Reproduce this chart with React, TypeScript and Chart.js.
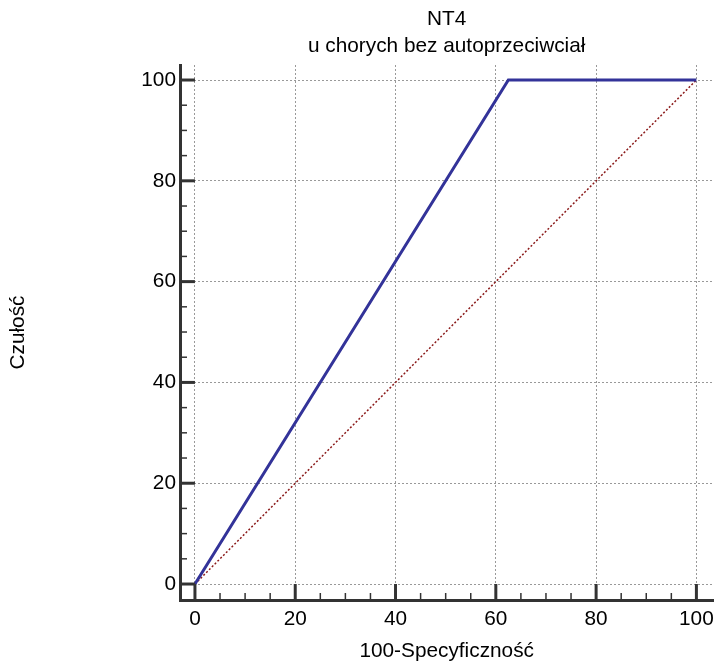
import React, { useEffect, useRef } from "react";
import { Chart, registerables } from "chart.js";

Chart.register(...registerables);

const titleLines = ["NT4", "u chorych bez autoprzeciwciał"];
const xAxisTitle = "100-Specyficzność";
const yAxisTitle = "Czułość";
const majorTicks = [0, 20, 40, 60, 80, 100];
const minorTicks = [5, 10, 15, 25, 30, 35, 45, 50, 55, 65, 70, 75, 85, 90, 95];
const rocX = [0, 62.5, 100];
const rocY = [0, 100, 100];
const diagX = [0, 100];
const diagY = [0, 100];

const FONT = "'Liberation Sans', Arial, sans-serif";
const FS = 20.8;
const AXIS_COLOR = "#333333";

const tickPlugin = {
  id: "customTicks",
  afterDatasetsDraw(chart: any) {
    const { ctx, scales } = chart;
    const xs = scales.x;
    const ys = scales.y;
    const left = chart.chartArea.left;
    const bottom = chart.chartArea.bottom;
    const x0 = xs.getPixelForValue(0);
    const y0 = ys.getPixelForValue(0);
    ctx.save();
    ctx.strokeStyle = AXIS_COLOR;
    ctx.lineWidth = 3;
    majorTicks.forEach((v) => {
      const py = ys.getPixelForValue(v);
      ctx.beginPath();
      ctx.moveTo(left, py);
      ctx.lineTo(x0, py);
      ctx.stroke();
      const px = xs.getPixelForValue(v);
      ctx.beginPath();
      ctx.moveTo(px, bottom);
      ctx.lineTo(px, y0);
      ctx.stroke();
    });
    ctx.lineWidth = 1.5;
    minorTicks.forEach((v) => {
      const py = ys.getPixelForValue(v);
      ctx.beginPath();
      ctx.moveTo(left, py);
      ctx.lineTo(left + 7, py);
      ctx.stroke();
      const px = xs.getPixelForValue(v);
      ctx.beginPath();
      ctx.moveTo(px, bottom);
      ctx.lineTo(px, bottom - 7);
      ctx.stroke();
    });
    ctx.restore();
  },
};

export default function App() {
  const ref = useRef<HTMLCanvasElement | null>(null);
  useEffect(() => {
    if (!ref.current) return;
    const chart = new Chart(ref.current, {
      type: "line",
      data: {
        datasets: [
          {
            label: "ROC",
            data: rocX.map((x, i) => ({ x, y: rocY[i] })),
            borderColor: "#333399",
            borderWidth: 3,
            pointRadius: 0,
            fill: false,
            tension: 0,
            order: 1,
          },
          {
            label: "diag",
            data: diagX.map((x, i) => ({ x, y: diagY[i] })),
            borderColor: "#8b1a1a",
            borderWidth: 1.5,
            borderDash: [2, 2],
            pointRadius: 0,
            fill: false,
            order: 2,
          },
        ],
      },
      options: {
        responsive: false,
        animation: false,
        layout: { padding: { left: 0, right: 6, top: 0, bottom: 0 } },
        plugins: {
          legend: { display: false },
          tooltip: { enabled: false },
          title: {
            display: true,
            fullSize: false,
            text: titleLines,
            color: "#000",
            font: { family: FONT, size: FS, weight: "normal", lineHeight: 27 / FS },
            padding: { top: 5.5, bottom: 5.5 },
          },
        },
        scales: {
          x: {
            type: "linear",
            min: -2.98,
            max: 103.38,
            afterBuildTicks: (s: any) => {
              s.ticks = majorTicks.map((v) => ({ value: v }));
            },
            afterFit: (s: any) => {
              s.height = 69;
            },
            ticks: {
              color: "#000",
              font: { family: FONT, size: FS },
              padding: 7,
              maxRotation: 0,
              autoSkip: false,
            },
            grid: { color: "#999", lineWidth: 1, drawTicks: false },
            border: { display: true, color: AXIS_COLOR, width: 3, dash: [2, 2] },
            title: {
              display: true,
              text: xAxisTitle,
              color: "#000",
              font: { family: FONT, size: FS },
              padding: { top: 0, bottom: 5 },
            },
          },
          y: {
            type: "linear",
            min: -3.17,
            max: 102.98,
            afterBuildTicks: (s: any) => {
              s.ticks = majorTicks.map((v) => ({ value: v }));
            },
            afterFit: (s: any) => {
              s.width = 180;
            },
            ticks: {
              color: "#000",
              font: { family: FONT, size: FS },
              padding: 4,
              autoSkip: false,
            },
            grid: { color: "#999", lineWidth: 1, drawTicks: false },
            border: { display: true, color: AXIS_COLOR, width: 3, dash: [2, 2] },
            title: {
              display: true,
              text: yAxisTitle,
              color: "#000",
              font: { family: FONT, size: FS },
              padding: { top: 6, bottom: 0 },
            },
          },
        },
      },
      plugins: [tickPlugin],
    } as any);
    return () => chart.destroy();
  }, []);
  return (
    <div style={{ position: "fixed", left: 0, top: 0, width: 721, height: 669, background: "#fff" }}>
      <canvas ref={ref} width={721} height={669} />
    </div>
  );
}
